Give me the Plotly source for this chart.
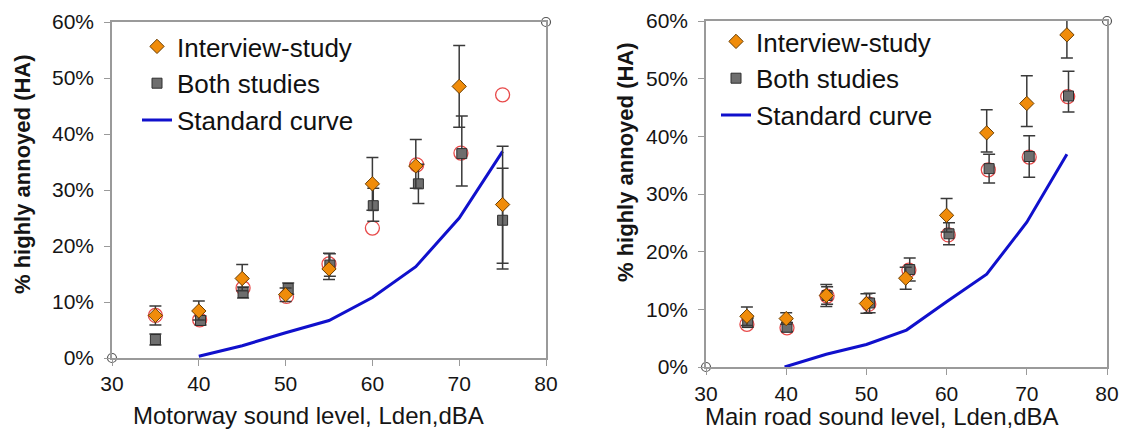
import plotly.graph_objects as go

# ---------------- data (percent) ----------------
# Left panel: Motorway
m_int_x = [35, 40, 45, 50, 55, 60, 65, 70, 75]
m_int_y = [7.6, 8.4, 14.2, 11.3, 15.9, 31.1, 34.3, 48.5, 27.4]
m_int_up = [1.7, 1.8, 2.5, 1.2, 2.8, 4.7, 4.7, 7.3, 10.4]
m_int_dn = [1.7, 1.6, 2.2, 1.2, 1.9, 4.7, 4.0, 7.3, 10.5]

m_both_x = [35, 40.2, 45.1, 50.3, 55.1, 60.1, 65.3, 70.3, 75]
m_both_y = [3.3, 6.7, 11.7, 12.4, 16.6, 27.2, 31.1, 36.5, 24.6]
m_both_up = [1.0, 0.8, 1.0, 1.0, 2.0, 3.1, 3.5, 6.7, 9.3]
m_both_dn = [1.0, 0.8, 1.0, 1.0, 2.0, 2.8, 3.5, 5.8, 8.7]

m_circ_x = [35, 40.1, 45.1, 50.1, 55, 60, 65.1, 70.2, 75]
m_circ_y = [7.6, 6.8, 12.5, 11.0, 16.8, 23.2, 34.5, 36.6, 47.0]

m_std_x = [40, 45, 50, 55, 60, 65, 70, 75]
m_std_y = [0.3, 2.2, 4.5, 6.7, 10.8, 16.3, 25.0, 36.9]

# Right panel: Main road
r_int_x = [35.1, 40, 45, 50, 54.9, 60, 65, 70, 75]
r_int_y = [8.8, 8.4, 12.4, 11.0, 15.4, 26.3, 40.6, 45.7, 57.6]
r_int_up = [1.6, 1.0, 1.9, 1.7, 1.9, 2.9, 4.0, 4.8, 4.0]
r_int_dn = [1.6, 1.0, 1.9, 1.7, 1.9, 2.9, 3.3, 4.0, 4.0]

r_both_x = [35.2, 40.1, 45.1, 50.4, 55.4, 60.3, 65.3, 70.3, 75.2]
r_both_y = [7.7, 6.9, 12.4, 11.1, 16.9, 23.1, 34.4, 36.5, 47.0]
r_both_up = [0.8, 0.8, 1.5, 1.7, 2.0, 1.9, 2.5, 3.6, 4.3]
r_both_dn = [0.8, 0.8, 1.5, 1.7, 2.0, 1.9, 2.5, 3.6, 2.8]

r_circ_x = [35.1, 40.1, 45.1, 50.3, 55.3, 60.2, 65.2, 70.3, 75.1]
r_circ_y = [7.4, 6.8, 12.3, 10.9, 16.8, 22.9, 34.2, 36.4, 46.9]

r_std_x = [39.8, 45, 50, 55, 60, 65, 70, 75]
r_std_y = [0.0, 2.2, 3.9, 6.4, 11.3, 16.1, 25.1, 36.9]

corner_x = [30, 80]
corner_y = [0, 60]

x_ticks = [30, 40, 50, 60, 70, 80]
y_ticks = [0, 10, 20, 30, 40, 50, 60]
y_tick_text = ["0%", "10%", "20%", "30%", "40%", "50%", "60%"]

x_titles = ["Motorway sound level, Lden,dBA", "Main road sound level, Lden,dBA"]
y_title = "% highly annoyed (HA)"

# ---------------- styles ----------------
FONT = "Liberation Sans, Arial, sans-serif"
ORANGE = "#f08c0a"
GREY_SQ = "#6e6e6e"
BLUE = "#1010cc"
RED = "#e84a4a"
ERR = "#3a3a3a"
TXT = "#151515"

fig = go.Figure()


def add_panel(xa, ya, legend, ix, iy, iup, idn, bx, by, bup, bdn, cx, cy, sx, sy):
    fig.add_trace(go.Scatter(
        x=sx, y=sy, mode="lines", name="Standard curve",
        line=dict(color=BLUE, width=3), xaxis=xa, yaxis=ya,
        legend=legend, legendgroup=legend + "c", legendrank=3))
    fig.add_trace(go.Scatter(
        x=cx, y=cy, mode="markers", showlegend=False,
        marker=dict(symbol="circle-open", size=14, color=RED, line=dict(width=1.3)),
        xaxis=xa, yaxis=ya))
    fig.add_trace(go.Scatter(
        x=bx, y=by, mode="markers", name="Both studies",
        marker=dict(symbol="square", size=10, color=GREY_SQ, line=dict(color="#2e2e2e", width=1)),
        error_y=dict(type="data", symmetric=False, array=bup, arrayminus=bdn,
                     color=ERR, thickness=1.5, width=6),
        xaxis=xa, yaxis=ya, legend=legend, legendgroup=legend + "b", legendrank=2))
    fig.add_trace(go.Scatter(
        x=ix, y=iy, mode="markers", name="Interview-study",
        marker=dict(symbol="diamond", size=11, color=ORANGE, line=dict(color="#6a3d00", width=1)),
        error_y=dict(type="data", symmetric=False, array=iup, arrayminus=idn,
                     color=ERR, thickness=1.5, width=6),
        xaxis=xa, yaxis=ya, legend=legend, legendgroup=legend + "a", legendrank=1))
    fig.add_trace(go.Scatter(
        x=corner_x, y=corner_y, mode="markers", showlegend=False, cliponaxis=False,
        marker=dict(symbol="circle-open", size=9, color="#555555", line=dict(width=1.2)),
        xaxis=xa, yaxis=ya))


add_panel("x", "y", "legend", m_int_x, m_int_y, m_int_up, m_int_dn,
          m_both_x, m_both_y, m_both_up, m_both_dn, m_circ_x, m_circ_y, m_std_x, m_std_y)
add_panel("x2", "y2", "legend2", r_int_x, r_int_y, r_int_up, r_int_dn,
          r_both_x, r_both_y, r_both_up, r_both_dn, r_circ_x, r_circ_y, r_std_x, r_std_y)

W, H = 1123, 430


def px_x(p):
    return p / W


def px_y(p):
    return (H - p) / H


axis_common = dict(showgrid=False, zeroline=False, showline=True, mirror=True, automargin=False,
                   linecolor="#9a9a9a", linewidth=1.5, ticks="outside", ticklen=6,
                   tickcolor="#9a9a9a", tickwidth=1.2,
                   tickfont=dict(family=FONT, size=21, color=TXT))

fig.update_layout(
    width=W, height=H, margin=dict(l=0, r=0, t=0, b=0),
    paper_bgcolor="white", plot_bgcolor="white",
    font=dict(family=FONT, color=TXT),
    xaxis=dict(domain=[px_x(112), px_x(546)], range=[30, 80], tickvals=x_ticks, anchor="y",
               ticklabelstandoff=0, **axis_common),
    yaxis=dict(domain=[px_y(358), px_y(22)], range=[0, 60], tickmode="array",
               tickvals=y_ticks, ticktext=y_tick_text, anchor="x", ticklabelstandoff=6,
               **axis_common),
    xaxis2=dict(domain=[px_x(706), px_x(1107)], range=[30, 80], tickvals=x_ticks, anchor="y2",
                ticklabelstandoff=1, **axis_common),
    yaxis2=dict(domain=[px_y(367), px_y(21)], range=[0, 60], tickmode="array",
                tickvals=y_ticks, ticktext=y_tick_text, anchor="x2", ticklabelstandoff=6,
                **axis_common),
    legend=dict(x=px_x(137), y=px_y(23), xanchor="left", yanchor="top",
                bgcolor="rgba(0,0,0,0)", font=dict(family=FONT, size=26, color="#111"),
                traceorder="grouped", tracegroupgap=0, itemwidth=30),
    legend2=dict(x=px_x(716), y=px_y(18), xanchor="left", yanchor="top",
                 bgcolor="rgba(0,0,0,0)", font=dict(family=FONT, size=26, color="#111"),
                 traceorder="grouped", tracegroupgap=0, itemwidth=30),
)

# Axis titles (placed like the reference, slightly off-centre)
fig.add_annotation(text=x_titles[0], xref="paper", yref="paper", x=px_x(308), y=px_y(415),
                   xanchor="center", yanchor="middle", showarrow=False,
                   font=dict(family=FONT, size=24, color=TXT))
fig.add_annotation(text=x_titles[1], xref="paper", yref="paper", x=px_x(882), y=px_y(416),
                   xanchor="center", yanchor="middle", showarrow=False,
                   font=dict(family=FONT, size=24, color=TXT))
fig.add_annotation(text="<b>" + y_title + "</b>", xref="paper", yref="paper", x=px_x(22), y=px_y(174),
                   xanchor="center", yanchor="middle", textangle=-90, showarrow=False,
                   font=dict(family=FONT, size=22, color=TXT))
fig.add_annotation(text="<b>" + y_title + "</b>", xref="paper", yref="paper", x=px_x(625), y=px_y(162),
                   xanchor="center", yanchor="middle", textangle=-90, showarrow=False,
                   font=dict(family=FONT, size=22, color=TXT))

# remove the default page margin so the 1123x430 figure fills the window exactly
fig.write_html("out.html", config={"displayModeBar": False},
               post_script="document.body.style.margin='0';document.body.style.overflow='hidden';")
